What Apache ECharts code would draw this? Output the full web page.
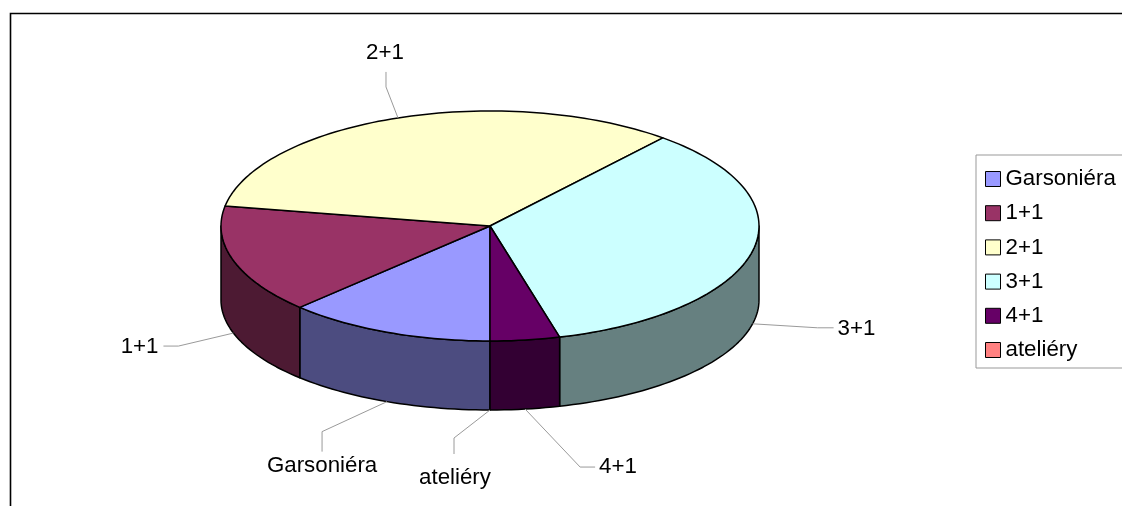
<!DOCTYPE html>
<html>
<head>
<meta charset="utf-8">
<script src="https://cdn.jsdelivr.net/npm/echarts@6/dist/echarts.min.js"></script>
<style>
html,body{margin:0;padding:0;background:#fff;}
#chart{width:1122px;height:506px;}
</style>
</head>
<body>
<div id="chart"></div>
<script>
// ---- data ----
const categories = ['Garsoniéra', '1+1', '2+1', '3+1', '4+1', 'ateliéry'];
const values = [9, 11, 24, 25, 3, 0];

// ---- styles / layout ----
const topColors = ['#9999FF', '#993366', '#FFFFCC', '#CCFFFF', '#660066', '#FF8080'];
const sideColors = ['#4C4C80', '#4D1A33', '#808066', '#668080', '#330033', '#804040'];
const FIRST_ANGLE = 180;               // degrees, clockwise from 12 o'clock
const TOP = {cx: 490, cy: 226, rx: 269, ry: 115};
const BOT = {cx: 490, cy: 300, rx: 269, ry: 110};
const FONT = 'Liberation Sans, Arial, sans-serif';
const FONT_SIZE = 22.3;
// leader-line / label offsets relative to the slice anchor point
const labelLayout = [
  {elbow: [-65, 30], end: [-65, 50], text: [-65, 64], align: 'center'},
  {elbow: [-55, 13], end: [-70, 13], text: [-75, 14], align: 'right'},
  {elbow: [-12, -31], end: [-12, -46], text: [-13, -65], align: 'center'},
  {elbow: [65, 4], end: [81, 4], text: [85, 5], align: 'left'},
  {elbow: [55, 58], end: [70, 58], text: [74, 58], align: 'left'},
  {elbow: [-36, 28], end: [-36, 44], text: [-35, 68], align: 'center'}
];

const total = values.reduce((a, b) => a + b, 0);
const starts = [];
(function () {
  let acc = FIRST_ANGLE;
  values.forEach(v => { starts.push(acc); acc += v / total * 360; });
})();

function pt(E, deg) {
  const r = deg * Math.PI / 180;
  return [E.cx + E.rx * Math.sin(r), E.cy - E.ry * Math.cos(r)];
}
function arc(E, a, b) {
  const pts = [];
  const n = Math.max(2, Math.ceil(Math.abs(b - a) / 1.5));
  for (let i = 0; i <= n; i++) pts.push(pt(E, a + (b - a) * i / n));
  return pts;
}
function isFront(deg) {
  const m = ((deg % 360) + 360) % 360;
  return m >= 90 && m <= 270;
}

function renderItem(params, api) {
  const i = params.dataIndex;
  const v = api.value(0);
  const a = starts[i];
  const b = a + v / total * 360;
  const children = [];
  // side walls (front half only)
  [[90, 270], [450, 630]].forEach(([f0, f1]) => {
    const s = Math.max(a, f0), e = Math.min(b, f1);
    if (e > s) {
      const pts = arc(TOP, s, e).concat(arc(BOT, e, s));
      children.push({
        type: 'polygon', shape: {points: pts},
        style: {fill: sideColors[i], stroke: '#000', lineWidth: 1.5, lineJoin: 'round'}
      });
    }
  });
  // top face
  if (b > a) {
    const pts = [[TOP.cx, TOP.cy]].concat(arc(TOP, a, b));
    children.push({
      type: 'polygon', shape: {points: pts},
      style: {fill: topColors[i], stroke: '#000', lineWidth: 1.5, lineJoin: 'round'}
    });
  }
  // label + leader
  const mid = (a + b) / 2;
  const anchor = isFront(mid) ? pt(BOT, mid) : pt(TOP, mid);
  const L = labelLayout[i];
  children.push({
    type: 'polyline',
    shape: {points: [anchor,
      [anchor[0] + L.elbow[0], anchor[1] + L.elbow[1]],
      [anchor[0] + L.end[0], anchor[1] + L.end[1]]]},
    style: {stroke: '#9a9a9a', lineWidth: 1, fill: null}
  });
  children.push({
    type: 'text',
    style: {
      text: categories[i],
      x: anchor[0] + L.text[0], y: anchor[1] + L.text[1],
      align: L.align, verticalAlign: 'middle',
      fill: '#000', fontSize: FONT_SIZE, fontFamily: FONT
    }
  });
  return {type: 'group', children};
}

const chart = echarts.init(document.getElementById('chart'), null, {renderer: 'canvas'});
chart.setOption({
  animation: false,
  backgroundColor: '#fff',
  color: topColors,
  graphic: [{
    type: 'rect', left: 8, top: 11, z: -10,
    shape: {x: 0, y: 0, width: 1200, height: 600},
    style: {fill: null, stroke: '#000', lineWidth: 1.6}
  }],
  legend: {
    orient: 'vertical',
    left: 976, top: 155,
    padding: [13, 40, 7, 9],
    itemWidth: 15, itemHeight: 15,
    itemGap: 12.2,
    itemStyle: {borderColor: '#000', borderWidth: 1},
    borderColor: '#999', borderWidth: 1,
    icon: 'rect',
    data: categories,
    textStyle: {fontSize: FONT_SIZE, fontFamily: FONT, color: '#000', lineHeight: 22},
    itemTextGap: 7
  },
  series: [
    {
      type: 'custom',
      coordinateSystem: 'none',
      renderItem: renderItem,
      data: values.map(v => [v]),
      silent: true
    },
    {
      type: 'pie',
      radius: [0, 0],
      center: [-100, -100],
      silent: true,
      label: {show: false}, labelLine: {show: false},
      data: categories.map((c, i) => ({name: c, value: values[i], itemStyle: {color: topColors[i]}}))
    }
  ]
});
</script>
</body>
</html>
